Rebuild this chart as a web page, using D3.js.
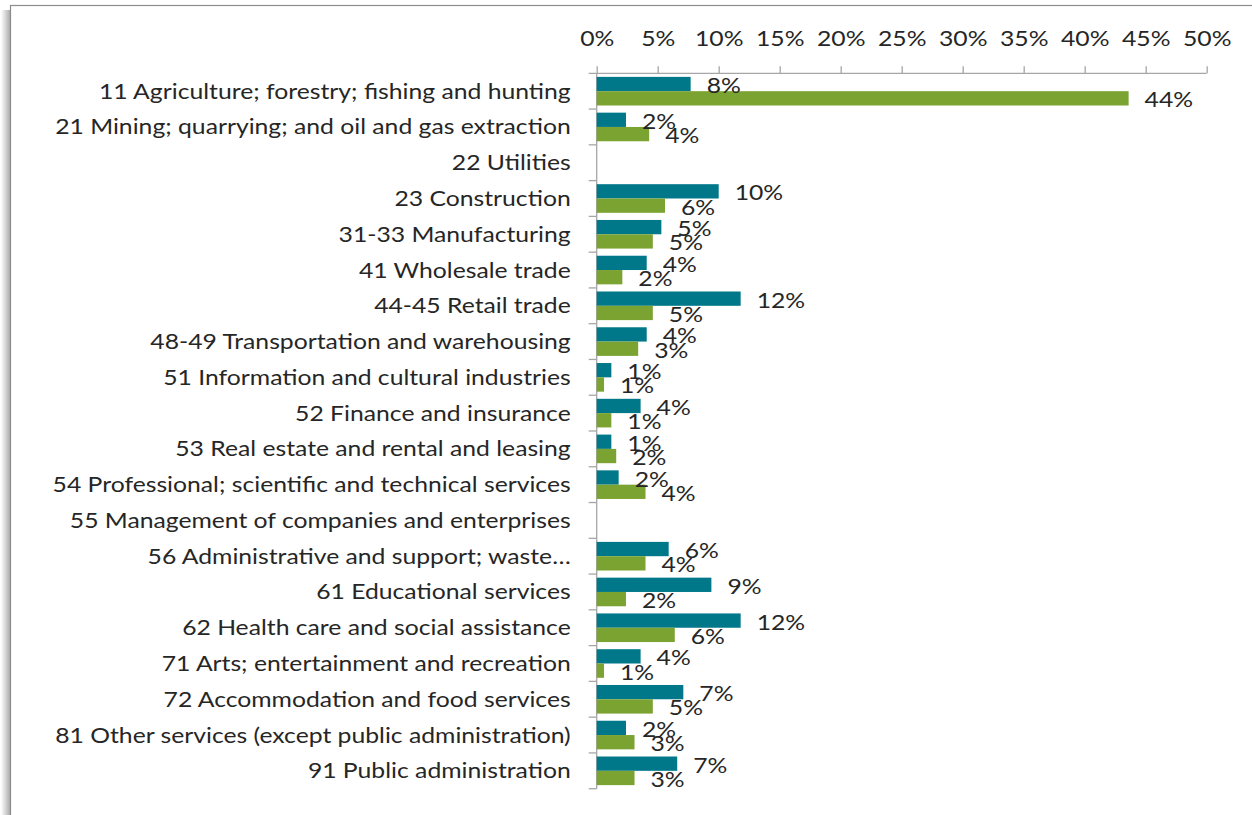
<!DOCTYPE html>
<html>
<head>
<meta charset="utf-8">
<script src="https://cdn.jsdelivr.net/npm/d3@7"></script>
<style>
  html, body { margin: 0; padding: 0; background: #ffffff; }
  svg { display: block; }
  text { font-family: Lato, "Open Sans", sans-serif; fill: #262626; }
</style>
</head>
<body>
<svg id="chart" width="1252" height="815"></svg>
<script>
// Industry categories (NAICS sectors), top to bottom
const categories = [
  "11 Agriculture; forestry; fishing and hunting",
  "21 Mining; quarrying; and oil and gas extraction",
  "22 Utilities",
  "23 Construction",
  "31-33 Manufacturing",
  "41 Wholesale trade",
  "44-45 Retail trade",
  "48-49 Transportation and warehousing",
  "51 Information and cultural industries",
  "52 Finance and insurance",
  "53 Real estate and rental and leasing",
  "54 Professional; scientific and technical services",
  "55 Management of companies and enterprises",
  "56 Administrative and support; waste\u2026",
  "61 Educational services",
  "62 Health care and social assistance",
  "71 Arts; entertainment and recreation",
  "72 Accommodation and food services",
  "81 Other services (except public administration)",
  "91 Public administration"
];

// Share of each industry, in percent (null = no value shown)
const series1 = [7.7, 2.4, null, 10.0, 5.3, 4.1, 11.8, 4.1, 1.2, 3.6, 1.2, 1.8, null, 5.9, 9.4, 11.8, 3.6, 7.1, 2.4, 6.6];
const series2 = [43.6, 4.3, null, 5.6, 4.6, 2.1, 4.6, 3.4, 0.6, 1.2, 1.6, 4.0, null, 4.0, 2.4, 6.4, 0.6, 4.6, 3.1, 3.1];

const tickValues = [0, 5, 10, 15, 20, 25, 30, 35, 40, 45, 50];

const seriesList = [
  { key: "series1", values: series1, color: "#00788a" },
  { key: "series2", values: series2, color: "#7ba331" }
];

const svg = d3.select("#chart");
const fontSize = 21.5;
const stretch = 1.15;   // horizontal widening of the label glyphs

// Outer chart frame with a soft shadow on its left edge
const defs = svg.append("defs");
const grad = defs.append("linearGradient").attr("id", "leftShadow")
  .attr("x1", "0%").attr("x2", "100%").attr("y1", "0%").attr("y2", "0%");
grad.append("stop").attr("offset", "0%").attr("stop-color", "#ffffff");
grad.append("stop").attr("offset", "100%").attr("stop-color", "#a8a8a8");
svg.append("rect").attr("x", 1).attr("y", 10).attr("width", 9.5).attr("height", 815)
  .attr("fill", "url(#leftShadow)");
svg.append("rect").attr("x", 10.5).attr("y", 5.5).attr("width", 1300).attr("height", 900)
  .attr("fill", "#ffffff").attr("stroke", "#8c8c8c").attr("stroke-width", 1.2);

const margin = { left: 596.7, top: 73.3, right: 1206.7, bottom: 788.7 };

const x = d3.scaleLinear().domain([0, 50]).range([margin.left, margin.right]);
const y = d3.scaleBand().domain(categories).range([margin.top, margin.bottom]);
const inner = d3.scaleBand().domain(seriesList.map(s => s.key))
  .range([0, y.bandwidth()]).paddingInner(0).paddingOuter(0.25);

const axisColor = "#a6a6a6";

// Top value axis
const xAxis = svg.append("g")
  .attr("transform", `translate(0,${margin.top})`)
  .call(d3.axisTop(x).tickValues(tickValues).tickFormat(d => d + "%").tickSize(7).tickSizeOuter(0).tickPadding(27));
xAxis.select(".domain").remove();
xAxis.selectAll(".tick line").attr("stroke", axisColor).attr("stroke-width", 1.3);
xAxis.selectAll(".tick text")
  .attr("font-size", fontSize)
  .attr("x", null).attr("y", null).attr("dy", null)
  .attr("transform", `translate(0,-27) scale(${stretch},1)`)
  .style("fill", "#262626");
svg.append("line")
  .attr("x1", margin.left - 8).attr("x2", margin.right)
  .attr("y1", margin.top).attr("y2", margin.top)
  .attr("stroke", axisColor).attr("stroke-width", 1.3);

// Category axis on the left, ticks at band boundaries
const bounds = categories.map(c => y(c)).concat([margin.bottom]);
const yAxis = svg.append("g");
yAxis.append("line")
  .attr("x1", margin.left).attr("x2", margin.left)
  .attr("y1", margin.top).attr("y2", margin.bottom)
  .attr("stroke", axisColor).attr("stroke-width", 1.3);
yAxis.selectAll("line.tk").data(bounds.slice(1)).join("line").attr("class", "tk")
  .attr("x1", margin.left - 8).attr("x2", margin.left)
  .attr("y1", d => d).attr("y2", d => d)
  .attr("stroke", axisColor).attr("stroke-width", 1.3);
yAxis.selectAll("text").data(categories).join("text")
  .attr("transform", d => `translate(${margin.left - 26},${y(d) + y.bandwidth() / 2 + 7.5}) scale(${stretch},1)`)
  .attr("text-anchor", "end")
  .attr("font-size", fontSize)
  .text(d => d);

// Bars
const rows = [];
categories.forEach((c, i) => {
  seriesList.forEach(s => {
    if (s.values[i] != null) rows.push({ cat: c, key: s.key, value: s.values[i], color: s.color });
  });
});

svg.append("g").selectAll("rect").data(rows).join("rect")
  .attr("x", x(0))
  .attr("y", d => y(d.cat) + inner(d.key))
  .attr("width", d => x(d.value) - x(0))
  .attr("height", inner.bandwidth())
  .attr("fill", d => d.color);

// Value labels
svg.append("g").selectAll("text").data(rows).join("text")
  .attr("transform", d => `translate(${x(d.value) + 16},${y(d.cat) + inner(d.key) + inner.bandwidth() / 2 + 9}) scale(${stretch},1)`)
  .attr("font-size", fontSize)
  .text(d => Math.round(d.value) + "%");
</script>
</body>
</html>
